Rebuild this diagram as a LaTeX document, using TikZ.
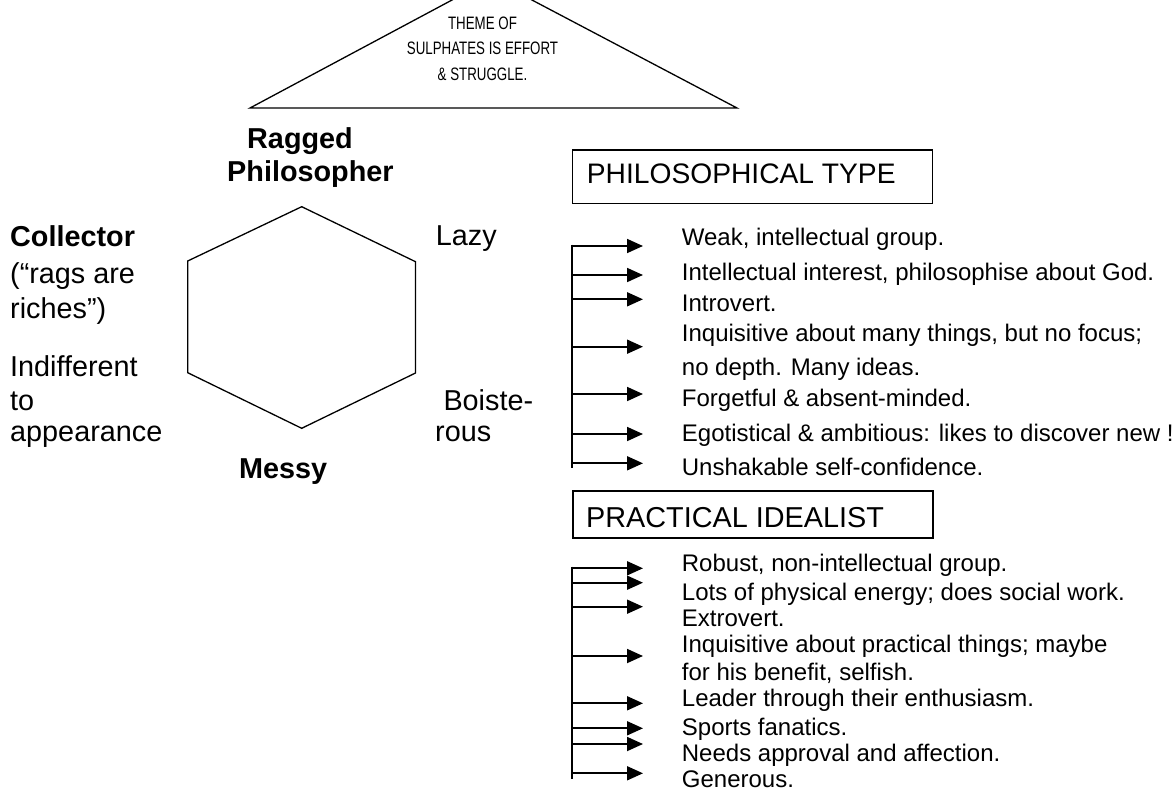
\documentclass[tikz,border=0pt]{standalone}
\usepackage{fontspec}
\setmainfont{Liberation Sans}
\newfontfamily\narrowfont[FakeStretch=0.74]{Liberation Sans}
\usetikzlibrary{arrows.meta}
\begin{document}
\begin{tikzpicture}[x=1pt,y=-1pt,
  txt/.style={anchor=base west,inner sep=0pt,font=\fontsize{24}{27}\selectfont},
  big/.style={anchor=base west,inner sep=0pt,font=\fontsize{28.8}{33}\selectfont},
  bigb/.style={anchor=base west,inner sep=0pt,font=\fontsize{28.8}{33}\selectfont\bfseries},
  tri/.style={anchor=base,inner sep=0pt,font=\narrowfont\fontsize{18}{21}\selectfont},
  outline/.style={line width=1.3pt,line join=miter},
  boxst/.style={draw,line width=1.5pt,inner sep=0pt},
  arr/.style={line width=1.8pt,-{Triangle[length=16pt,width=14pt]}},
  trunk/.style={line width=1.8pt}]
\fill[white] (0,0) rectangle (1176,792);
\useasboundingbox (0,0) rectangle (1176,792);
\begin{scope}
\clip (0,0) rectangle (1176,792);
% roof triangle
\draw[outline] (250,108) -- (491.7,-21.2) -- (737,108) -- cycle;
\end{scope}
\node[tri] (t1) at (482.5,29.5) {THEME OF};
\node[tri] (t2) at (482.5,55) {SULPHATES IS EFFORT};
\node[tri] (t3) at (482.5,80.5) {\& STRUGGLE.};

% hexagon
\draw[outline] (301.7,206.7) -- (415.5,261.7) -- (415.5,373) -- (301.7,428.3)
  -- (187.7,372.7) -- (187.7,261) -- cycle;

% labels around hexagon
\node[bigb] (rag) at (247,148.3) {Ragged};
\node[bigb] (phil) at (227,181.7) {Philosopher};
\node[bigb] (coll) at (10,246.7) {Collector};
\node[big] (rags) at (10,283) {(“rags are};
\node[big] (rich) at (10,318) {riches”)};
\node[big] (ind1) at (10,376.7) {Indifferent};
\node[big] (ind2) at (10,410) {to};
\node[big] (ind3) at (10,441.7) {appearance};
\node[bigb] (messy) at (239,478) {Messy};
\node[big] (lazy) at (435.7,245.7) {Lazy};
\node[big] (bo1) at (443.3,410) {Boiste-};
\node[big] (bo2) at (435,441.7) {rous};

% boxes
\node[boxst,anchor=north west,minimum width=360pt,minimum height=53.7pt] (philbox) at (571.7,149) {};
\node[big,font=\fontsize{28.2}{33}\selectfont] (philtxt) at (586.7,183.5) {PHILOSOPHICAL TYPE};
\node[boxst,anchor=north west,minimum width=360pt,minimum height=47pt] (pracbox) at (572,490) {};
\node[big] (practxt) at (586,527.3) {PRACTICAL IDEALIST};

% philosophical list
\node[txt] (a1) at (681.7,245) {Weak, intellectual group.};
\node[txt] (a2) at (681.7,280) {Intellectual interest, philosophise about God.};
\node[txt] (a3) at (681.7,311.7) {Introvert.};
\node[txt] (a4) at (681.7,341.7) {Inquisitive about many things, but no focus;};
\node[txt] (a5) at (681.7,375) {no depth. Many ideas.};
\node[txt] (a6) at (681.7,406.7) {Forgetful \& absent-minded.};
\node[txt] (a7) at (681.7,441.7) {Egotistical \& ambitious: likes to discover new !};
\node[txt] (a8) at (681.7,475) {Unshakable self-confidence.};

\coordinate (pt) at (572,244.5);
\coordinate (pb) at (572,468);
\draw[trunk] (pt) -- (pb);
\foreach \i/\y in {1/246,2/275,3/299.3,4/346.7,5/394,6/434,7/463.3}{
  \coordinate (ps\i) at (572,\y);
  \coordinate (pe\i) at (643,\y);
  \draw[arr] (ps\i) -- (pe\i);
}

% practical list
\node[txt] (b1) at (681.7,571.7) {Robust, non-intellectual group.};
\node[txt] (b2) at (681.7,600) {Lots of physical energy; does social work.};
\node[txt] (b3) at (681.7,626.7) {Extrovert.};
\node[txt] (b4) at (681.7,652.7) {Inquisitive about practical things; maybe};
\node[txt] (b5) at (681.7,680) {for his benefit, selfish.};
\node[txt] (b6) at (681.7,706.7) {Leader through their enthusiasm.};
\node[txt] (b7) at (681.7,735) {Sports fanatics.};
\node[txt] (b8) at (681.7,761.7) {Needs approval and affection.};
\node[txt] (b9) at (681.7,787) {Generous.};

\coordinate (qt) at (572,566.7);
\coordinate (qb) at (572,779);
\draw[trunk] (qt) -- (qb);
\foreach \i/\y in {1/568.3,2/582.7,3/606.7,4/656,5/703.3,6/728.3,7/744,8/773.3}{
  \coordinate (qs\i) at (572,\y);
  \coordinate (qe\i) at (643,\y);
  \draw[arr] (qs\i) -- (qe\i);
}
\end{tikzpicture}
\end{document}
